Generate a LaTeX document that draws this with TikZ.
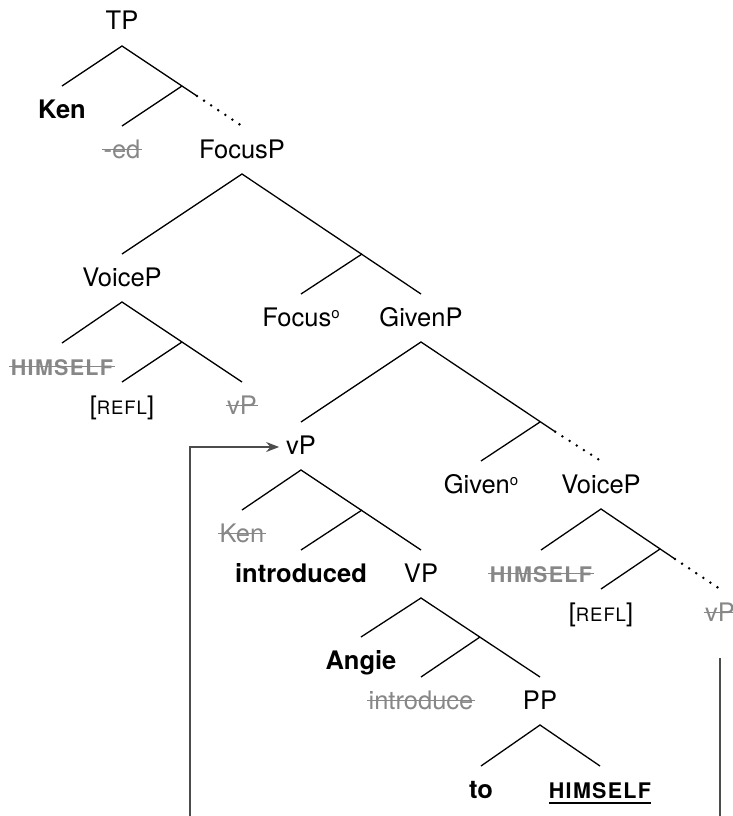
\documentclass[tikz,border=0pt]{standalone}
\usepackage{fontspec}
\setmainfont{TeX Gyre Heros}
\usetikzlibrary{calc,arrows.meta}
\newcommand\degsup{\raisebox{8pt}{\fontsize{15}{15}\selectfont o}}
\newcommand\refl{{\fontsize{18.5}{20}\selectfont\addfontfeature{LetterSpace=5}REFL}}
\newcommand\mystrike[1]{\draw[strk] ([yshift=8.5pt,xshift=-1.5pt]#1.base west) -- ([yshift=8.5pt,xshift=1.5pt]#1.base east);}
\begin{document}
\begin{tikzpicture}[x=1pt,y=-1pt,
  lbl/.style={anchor=base,inner sep=0pt,outer xsep=0pt,outer ysep=11pt,
    text height=21pt,text depth=5pt,font=\fontsize{25.5}{28}\selectfont},
  lblb/.style={lbl,font=\fontsize{25.5}{28}\selectfont\bfseries},
  capsbox/.style={lbl,font=\fontsize{21.5}{24}\selectfont\bfseries\addfontfeature{LetterSpace=6}},
  ghost/.style={text=black!47},
  strk/.style={draw=black!47,line width=1.8pt},
  edge/.style={draw=black,line width=1.3pt},
  dotline/.style={draw=black,line width=2.8pt,line cap=round,dash pattern=on 0pt off 8.5pt},
  conn/.style={draw=black!70,line width=1.3pt}
]
\useasboundingbox (0,0) rectangle (733,816);
% nodes
\node[lbl] (TP) at (122,30) {TP};
\node[lblb] (Ken) at (62,118) {Ken};
\node[lbl,ghost] (ed) at (122,158) {-ed};
\node[lbl] (FocusP) at (242,158) {FocusP};
\node[lbl] (VoiceP1) at (122,286) {VoiceP};
\node[lbl] (Focus0) at (301,326) {Focus\degsup};
\node[lbl] (GivenP) at (421,326) {GivenP};
\node[capsbox,ghost] (H1) at (62,375) {HIMSELF};
\node[lbl] (R1) at (122,414) {[\refl]};
\node[lbl,ghost] (vPs1) at (242,414) {vP};
\node[lbl] (vP) at (301,454) {vP};
\node[lbl] (Given0) at (481,493) {Given\degsup};
\node[lbl] (VoiceP2) at (601,493) {VoiceP};
\node[lbl,ghost] (Kens) at (242,542) {Ken};
\node[lblb] (intro) at (301,582) {introduced};
\node[lbl] (VP) at (421,582) {VP};
\node[capsbox,ghost] (H2) at (541,582) {HIMSELF};
\node[lbl] (R2) at (601,621) {[\refl]};
\node[lbl,ghost] (vPs2) at (720,621) {vP};
\node[lblb] (Angie) at (361,669) {Angie};
\node[lbl,ghost] (intros) at (421,709) {introduce};
\node[lbl] (PP) at (540,709) {PP};
\node[lblb] (to) at (481,798) {to};
\node[capsbox] (H3) at (600,798) {HIMSELF};
% strikes and underline
\mystrike{ed}
\mystrike{H1}
\mystrike{vPs1}
\mystrike{Kens}
\mystrike{H2}
\mystrike{vPs2}
\mystrike{intros}
\draw[line width=2pt] ([yshift=-5pt]H3.base west) -- ([yshift=-5pt]H3.base east);
% branch points
\coordinate (b1) at (182,86);
\coordinate (b2) at (362,254);
\coordinate (b3) at (182,342);
\coordinate (b4) at (540,422);
\coordinate (b5) at (362,510);
\coordinate (b6) at (660,549);
\coordinate (b7) at (480,637);
\coordinate (d1) at ($(b1)!0.25!(FocusP.north)$);
\coordinate (d4) at ($(b4)!0.25!(VoiceP2.north)$);
\coordinate (d6) at ($(b6)!0.25!(vPs2.north)$);
% edges
\draw[edge] (Ken.north) -- (TP.south) -- (d1);
\draw[edge] (b1) -- (ed.north);
\draw[dotline] (d1) -- (FocusP.north);
\draw[edge] (VoiceP1.north) -- (FocusP.south) -- (GivenP.north);
\draw[edge] (b2) -- (Focus0.north);
\draw[edge] (H1.north) -- (VoiceP1.south) -- (vPs1.north);
\draw[edge] (b3) -- (R1.north);
\draw[edge] (vP.north) -- (GivenP.south) -- (d4);
\draw[edge] (b4) -- (Given0.north);
\draw[dotline] (d4) -- (VoiceP2.north);
\draw[edge] (Kens.north) -- (vP.south) -- (VP.north);
\draw[edge] (b5) -- (intro.north);
\draw[edge] (H2.north) -- (VoiceP2.south) -- (d6);
\draw[edge] (b6) -- (R2.north);
\draw[dotline] (d6) -- (vPs2.north);
\draw[edge] (Angie.north) -- (VP.south) -- (PP.north);
\draw[edge] (b7) -- (intros.north);
\draw[edge] (to.north) -- (PP.south) -- (H3.north);
% movement lines
\coordinate (botL) at (190,822);
\coordinate (botR) at (720,822);
\draw[conn,-{Stealth[length=13pt,width=10pt]}] (botL) |- ([xshift=-7pt,yshift=7pt]vP.base west);
\draw[conn] ([yshift=-21pt]vPs2.south) -- (botR);
\end{tikzpicture}
\end{document}
